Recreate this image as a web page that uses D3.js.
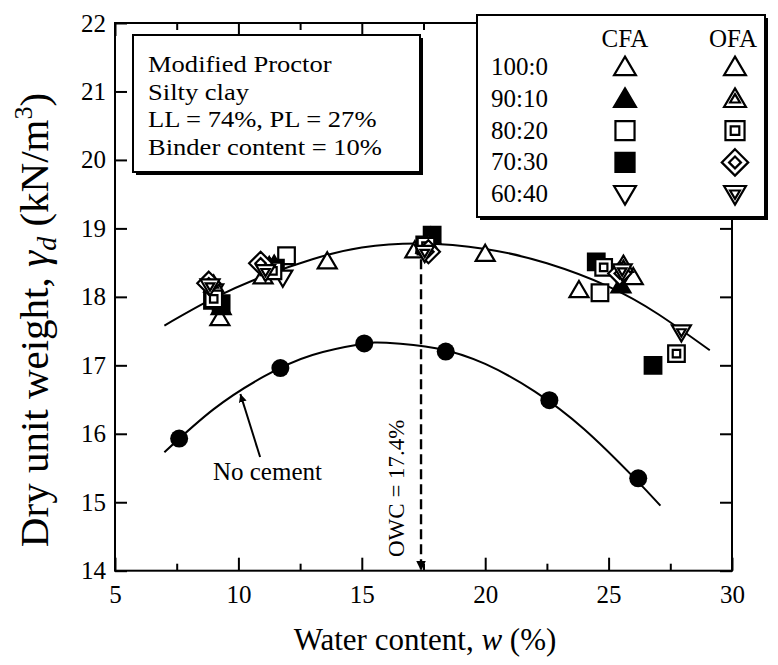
<!DOCTYPE html>
<html>
<head>
<meta charset="utf-8">
<script src="https://cdn.jsdelivr.net/npm/d3@7"></script>
<style>
  html, body { margin: 0; padding: 0; background: #fff; }
  svg { display: block; }
  text { font-family: 'Liberation Serif', 'Times New Roman', serif; fill: #000; }
</style>
</head>
<body>
<svg id="chart" width="778" height="665"></svg>
<script>
// ---- axis ticks ----
const xMajorTicks = [5, 10, 15, 20, 25, 30];
const xMinorTicks = [7.5, 12.5, 17.5, 22.5, 27.5];
const yMajorTicks = [14, 15, 16, 17, 18, 19, 20, 21, 22];

// ---- no-cement compaction points ----
const noCementW = [7.6, 11.7, 15.1, 18.4, 22.6, 26.2];
const noCementG = [15.93, 16.96, 17.32, 17.2, 16.49, 15.35];

// ---- fitted compaction curves (hand-read knots) ----
const lowerFitW = [7.0, 9, 11, 13, 15, 16, 18, 20, 22, 24, 26, 27.1];
const lowerFitG = [15.73, 16.36, 16.83, 17.15, 17.31, 17.33, 17.25, 17.02, 16.62, 16.07, 15.37, 14.95];
const upperFitW = [7.0, 9, 11, 13, 15, 17.4, 20, 22.5, 25, 27, 29.1];
const upperFitG = [17.58, 17.98, 18.3, 18.55, 18.72, 18.78, 18.7, 18.49, 18.15, 17.75, 17.22];

// ---- cemented samples, CFA ----
const cfa100W = [9.25, 11.0, 13.6, 17.15, 20.0, 23.8];
const cfa100G = [17.69, 18.3, 18.52, 18.68, 18.63, 18.10];
const cfa90W = [9.3, 11.45, 17.8, 25.5];
const cfa90G = [17.85, 18.47, 18.88, 18.17];
const cfa80W = [8.95, 11.95, 17.55, 24.65];
const cfa80G = [17.95, 18.6, 18.76, 18.06];
const cfa70W = [9.3, 11.5, 17.85, 24.5, 26.8];
const cfa70G = [17.9, 18.42, 18.9, 18.51, 17.0];
const cfa60W = [9.0, 11.8, 17.55, 25.4];
const cfa60G = [18.08, 18.28, 18.65, 18.3];

// ---- cemented samples, OFA ----
const ofa100W = [11.25, 17.6, 26.0];
const ofa100G = [18.45, 18.75, 18.29];
const ofa90W = [9.0, 11.3, 17.7, 25.6];
const ofa90G = [18.18, 18.42, 18.78, 18.47];
const ofa80W = [9.0, 11.4, 17.6, 24.8, 27.75];
const ofa80G = [17.97, 18.38, 18.74, 18.43, 17.17];
const ofa70W = [8.8, 10.9, 17.7, 25.45];
const ofa70G = [18.2, 18.49, 18.66, 18.34];
const ofa60W = [8.85, 11.1, 17.55, 25.55, 27.95];
const ofa60G = [18.15, 18.36, 18.64, 18.37, 17.48];

// ---- legend rows and notes ----
const ratioLabels = ['100:0', '90:10', '80:20', '70:30', '60:40'];
const infoLines = ['Modified Proctor', 'Silty clay', 'LL = 74%, PL = 27%', 'Binder content = 10%'];
const owcValue = 17.4;

const SERIF = "'Liberation Serif', 'Times New Roman', serif";

// ---- marker shapes ----
const shapePath = {
  triUp: r => `M0,${-r * 0.95}L${r},${r * 0.75}L${-r},${r * 0.75}Z`,
  triDown: r => `M0,${r * 0.95}L${r},${-r * 0.75}L${-r},${-r * 0.75}Z`,
  square: r => `M${-r},${-r}H${r}V${r}H${-r}Z`,
  diamond: r => `M0,${-r}L${r},0L0,${r}L${-r},0Z`
};

const cfaSeries = [
  { w: cfa100W, g: cfa100G, shape: 'triUp', r: 9.5, fill: '#fff', inner: false },
  { w: cfa90W, g: cfa90G, shape: 'triUp', r: 9.5, fill: '#000', inner: false },
  { w: cfa80W, g: cfa80G, shape: 'square', r: 8.3, fill: '#fff', inner: false },
  { w: cfa70W, g: cfa70G, shape: 'square', r: 8.3, fill: '#000', inner: false },
  { w: cfa60W, g: cfa60G, shape: 'triDown', r: 9.5, fill: '#fff', inner: false }
];
const ofaSeries = [
  { w: ofa100W, g: ofa100G, shape: 'triUp', r: 9.5, fill: '#fff', inner: false },
  { w: ofa90W, g: ofa90G, shape: 'triUp', r: 9.5, fill: '#fff', inner: true },
  { w: ofa80W, g: ofa80G, shape: 'square', r: 8.3, fill: '#fff', inner: true },
  { w: ofa70W, g: ofa70G, shape: 'diamond', r: 11.5, fill: '#fff', inner: true },
  { w: ofa60W, g: ofa60G, shape: 'triDown', r: 9.5, fill: '#fff', inner: true }
];

const svg = d3.select('#chart');
const x = d3.scaleLinear().domain([5, 30]).range([115, 732]);
const y = d3.scaleLinear().domain([14, 22]).range([570.7, 23]);

function drawMarker(g, spec, cx, cy, scale) {
  const s = scale || 1;
  const m = g.append('g').attr('transform', `translate(${cx},${cy})`);
  m.append('path').attr('d', shapePath[spec.shape](spec.r * s))
    .attr('fill', spec.fill).attr('stroke', '#000').attr('stroke-width', 2.2)
    .attr('stroke-linejoin', 'miter');
  if (spec.inner) {
    m.append('path').attr('d', shapePath[spec.shape](spec.r * s * 0.45))
      .attr('fill', '#fff').attr('stroke', '#000').attr('stroke-width', 2.2);
  }
}

// ---- defs: arrowhead ----
const defs = svg.append('defs');
defs.append('marker').attr('id', 'arrowHead')
  .attr('viewBox', '0 0 10 10').attr('refX', 10).attr('refY', 5)
  .attr('markerWidth', 4).attr('markerHeight', 4).attr('orient', 'auto')
  .attr('markerUnits', 'strokeWidth')
  .append('path').attr('d', 'M0,0L10,5L0,10Z').attr('fill', '#000');

// ---- axes ----
const axisStyle = g => {
  g.attr('font-family', null).attr('font-size', null);
  g.select('.domain').remove();
  g.selectAll('.tick line').attr('stroke', '#000').attr('stroke-width', 2);
  g.selectAll('.tick text').style('font-family', SERIF)
    .style('font-size', '25px').attr('fill', '#000');
};

svg.append('g').attr('transform', `translate(0,${y(14)})`)
  .call(d3.axisBottom(x).tickValues(xMajorTicks).tickSize(-13).tickPadding(15).tickFormat(d3.format('d')))
  .call(axisStyle);
svg.append('g').attr('transform', `translate(0,${y(14)})`)
  .call(d3.axisBottom(x).tickValues(xMinorTicks).tickSize(-7).tickFormat(''))
  .call(axisStyle);
svg.append('g').attr('transform', `translate(0,${y(22)})`)
  .call(d3.axisTop(x).tickValues(xMajorTicks).tickSize(-13).tickFormat(''))
  .call(axisStyle);
svg.append('g').attr('transform', `translate(0,${y(22)})`)
  .call(d3.axisTop(x).tickValues(xMinorTicks).tickSize(-7).tickFormat(''))
  .call(axisStyle);
svg.append('g').attr('transform', `translate(${x(5)},0)`)
  .call(d3.axisLeft(y).tickValues(yMajorTicks).tickSize(-12).tickPadding(9).tickFormat(d3.format('d')))
  .call(axisStyle);
svg.append('g').attr('transform', `translate(${x(30)},0)`)
  .call(d3.axisRight(y).tickValues(yMajorTicks).tickSize(-12).tickFormat(''))
  .call(axisStyle);

// plot frame
svg.append('rect').attr('x', x(5)).attr('y', y(22))
  .attr('width', x(30) - x(5)).attr('height', y(14) - y(22))
  .attr('fill', 'none').attr('stroke', '#000').attr('stroke-width', 2);

// ---- axis titles ----
const xTitle = svg.append('text').attr('x', 425).attr('y', 650)
  .attr('text-anchor', 'middle').style('font-size', '31px');
xTitle.append('tspan').text('Water content, ');
xTitle.append('tspan').attr('font-style', 'italic').text('w');
xTitle.append('tspan').text(' (%)');

const yTitle = svg.append('text')
  .attr('transform', 'translate(48,320) rotate(-90)')
  .attr('text-anchor', 'middle').style('font-size', '41px');
yTitle.append('tspan').text('Dry unit weight, ');
yTitle.append('tspan').attr('font-style', 'italic').text('γ');
yTitle.append('tspan').attr('font-style', 'italic').style('font-size', '28px').attr('dy', 8).text('d');
yTitle.append('tspan').attr('dy', -8).text(' (kN/m');
yTitle.append('tspan').style('font-size', '26px').attr('dy', -16).text('3');
yTitle.append('tspan').attr('dy', 16).text(')');

// ---- fitted curves ----
const line = d3.line().x(d => x(d[0])).y(d => y(d[1])).curve(d3.curveNatural);
svg.append('path').datum(upperFitW.map((w, i) => [w, upperFitG[i]]))
  .attr('d', line).attr('fill', 'none').attr('stroke', '#000').attr('stroke-width', 2);
svg.append('path').datum(lowerFitW.map((w, i) => [w, lowerFitG[i]]))
  .attr('d', line).attr('fill', 'none').attr('stroke', '#000').attr('stroke-width', 2);

// ---- OWC line ----
svg.append('line').attr('x1', x(owcValue)).attr('x2', x(owcValue))
  .attr('y1', y(18.55)).attr('y2', y(14))
  .attr('stroke', '#000').attr('stroke-width', 2.4).attr('stroke-dasharray', '10,5')
  .attr('marker-end', 'url(#arrowHead)');
svg.append('text')
  .attr('transform', `translate(${x(16.72)},${y(14.2)}) rotate(-90)`)
  .style('font-size', '23px').text(`OWC = ${owcValue}%`);

// ---- no-cement points ----
svg.append('g').selectAll('circle')
  .data(noCementW.map((w, i) => [w, noCementG[i]]))
  .join('circle').attr('cx', d => x(d[0])).attr('cy', d => y(d[1]))
  .attr('r', 9).attr('fill', '#000');

// "No cement" callout
svg.append('line').attr('x1', x(10.88)).attr('y1', y(15.66))
  .attr('x2', x(10.08)).attr('y2', y(16.58))
  .attr('stroke', '#000').attr('stroke-width', 2).attr('marker-end', 'url(#arrowHead)');
svg.append('text').attr('x', x(8.97)).attr('y', y(15.32))
  .style('font-size', '25px').text('No cement');

// ---- cemented points ----
const pts = svg.append('g');
[...cfaSeries, ...ofaSeries].forEach(spec => {
  spec.w.forEach((w, i) => drawMarker(pts, spec, x(w), y(spec.g[i])));
});

// ---- info box ----
svg.append('rect').attr('x', 136).attr('y', 38).attr('width', 287).attr('height', 137).attr('fill', '#000');
svg.append('rect').attr('x', 133).attr('y', 35).attr('width', 287).attr('height', 137)
  .attr('fill', '#fff').attr('stroke', '#000').attr('stroke-width', 2);
// tightly set lines, letterforms widened to the box
svg.append('g').selectAll('text').data(infoLines).join('text')
  .attr('transform', (d, i) => `translate(148,${72 + i * 27.6}) scale(1.13,1)`)
  .style('font-size', '23.5px').text(d => d);

// ---- legend ----
const lg = svg.append('g');
lg.append('rect').attr('x', 480).attr('y', 18).attr('width', 288).attr('height', 202).attr('fill', '#000');
lg.append('rect').attr('x', 477).attr('y', 15).attr('width', 288).attr('height', 202)
  .attr('fill', '#fff').attr('stroke', '#000').attr('stroke-width', 2);
lg.append('text').attr('x', 625).attr('y', 47).attr('text-anchor', 'middle').style('font-size', '25px').text('CFA');
lg.append('text').attr('x', 733).attr('y', 47).attr('text-anchor', 'middle').style('font-size', '25px').text('OFA');
ratioLabels.forEach((lab, i) => {
  const by = 75 + i * 31.8;
  lg.append('text').attr('x', 491).attr('y', by).style('font-size', '25px').text(lab);
  drawMarker(lg, cfaSeries[i], 625, by - 8, 1.15);
  drawMarker(lg, ofaSeries[i], 735, by - 8, 1.15);
});
</script>
</body>
</html>
